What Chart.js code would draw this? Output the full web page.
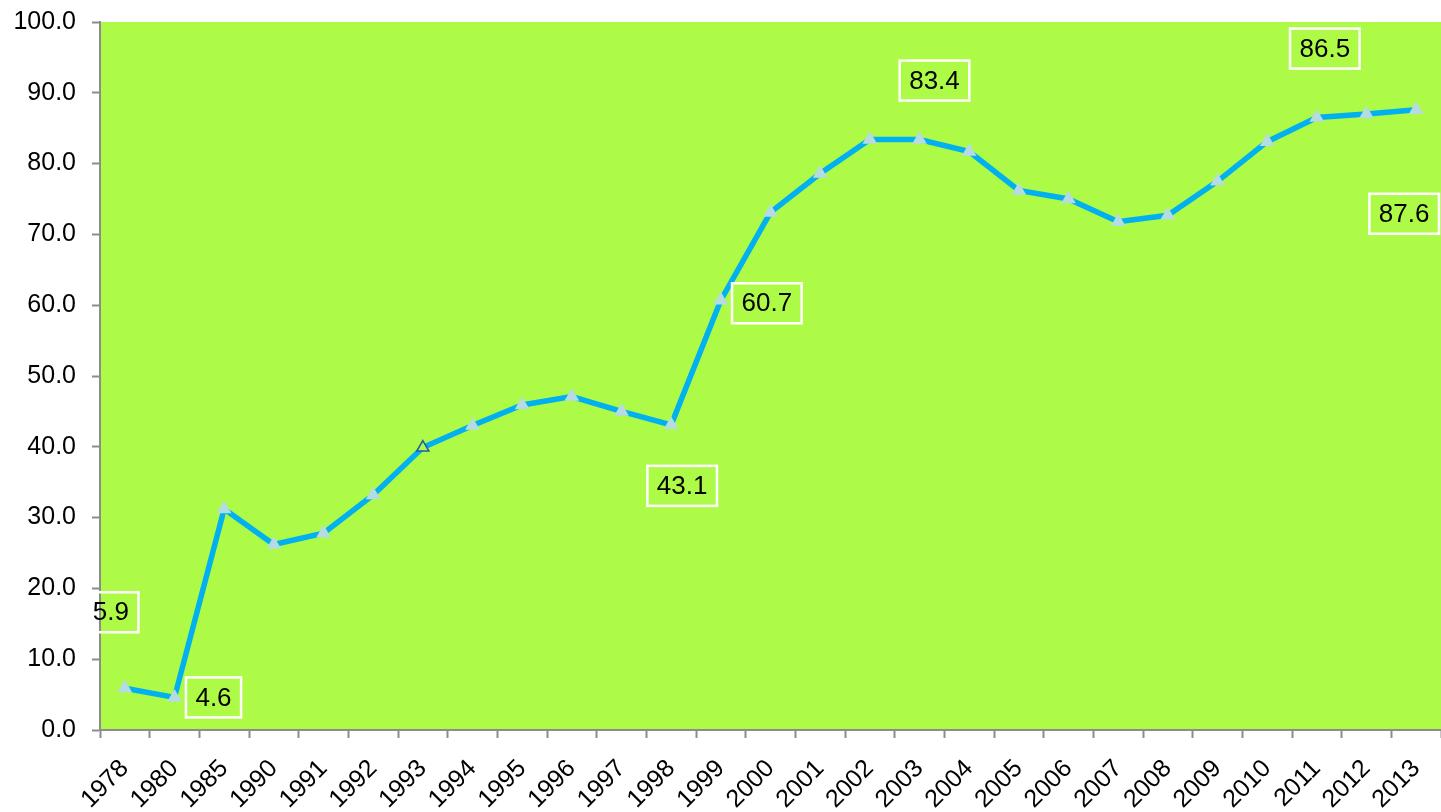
<!DOCTYPE html>
<html>
<head>
<meta charset="utf-8">
<script src="https://cdn.jsdelivr.net/npm/chart.js@4/dist/chart.umd.min.js"></script>
<style>
    html, body { margin: 0; padding: 0; background: #fff; }
    #wrap { width: 1441px; height: 812px; }
</style>
</head>
<body>
<div id="wrap"><canvas id="dataChart" width="1441" height="812"></canvas></div>
<script>
const years = ['1978', '1980', '1985', '1990', '1991', '1992', '1993', '1994', '1995', '1996', '1997', '1998', '1999',
    '2000', '2001', '2002', '2003', '2004', '2005', '2006', '2007', '2008', '2009', '2010', '2011', '2012', '2013'];
const rates = [5.9, 4.6, 31.2, 26.2, 27.8, 33.2, 39.9, 43.0, 45.9, 47.1, 45.0, 43.1, 60.7,
    73.1, 78.6, 83.4, 83.4, 81.7, 76.2, 75.0, 71.8, 72.7, 77.5, 83.1, 86.5, 87.0, 87.6];
const yTicks = [0, 10, 20, 30, 40, 50, 60, 70, 80, 90, 100];

// which points carry a boxed value, and where the box sits relative to the point
const labelled = ['1978', '1980', '1998', '1999', '2003', '2011', '2013'];
const labelShift = [[-14, -76], [39, 0], [11, 61], [46, 3], [15, -59], [8, -69], [-12, 104]];

const plotGreen = '#adfb47';
const lineBlue = '#00b0f0';
const axisGrey = '#8c8c8c';
const fontFamily = '"Liberation Sans", Arial, sans-serif';

const pointFill = years.map(y => y === '1993' ? plotGreen : '#b5dbe3');
const pointEdge = years.map(y => y === '1993' ? '#1f5cb0' : '#b5dbe3');

const plotBackground = {
    id: 'plotBackground',
    beforeDraw(chart) {
        const { ctx, chartArea } = chart;
        ctx.save();
        ctx.fillStyle = plotGreen;
        ctx.fillRect(chartArea.left, chartArea.top, chartArea.right - chartArea.left, chartArea.bottom - chartArea.top);
        ctx.restore();
    }
};

const valueBoxes = {
    id: 'valueBoxes',
    afterDatasetsDraw(chart) {
        const { ctx, scales, chartArea } = chart;
        ctx.save();
        // the first box hangs past the axis; its left side gets cut like in the original
        ctx.beginPath();
        ctx.rect(chartArea.left - 8, 0, chart.width, chart.height);
        ctx.clip();
        ctx.font = '26px ' + fontFamily;
        ctx.textAlign = 'center';
        ctx.textBaseline = 'middle';
        labelled.forEach((yr, i) => {
            const idx = years.indexOf(yr);
            const v = rates[idx];
            const cx = scales.x.getPixelForValue(idx) + labelShift[i][0];
            const cy = scales.y.getPixelForValue(v) + labelShift[i][1];
            const txt = v.toFixed(1);
            const w = ctx.measureText(txt).width + 19;
            const h = 40;
            ctx.strokeStyle = '#ffffff';
            ctx.lineWidth = 2.5;
            ctx.strokeRect(cx - w / 2, cy - h / 2, w, h);
            ctx.fillStyle = '#000';
            ctx.fillText(txt, cx, cy + 1);
        });
        ctx.restore();
    }
};

const dataOptions = {
    type: 'line',
    data: {
        labels: years,
        datasets: [{
            data: rates,
            borderColor: lineBlue,
            borderWidth: 5.5,
            pointStyle: 'triangle',
            pointRadius: 7,
            pointBorderWidth: 1.5,
            pointBackgroundColor: pointFill,
            pointBorderColor: pointEdge,
            tension: 0,
            fill: false,
            clip: false
        }]
    },
    options: {
        responsive: false,
        animation: { duration: 0 },
        layout: { autoPadding: false, padding: { top: 22, right: 0, left: 0, bottom: 0 } },
        plugins: {
            legend: { display: false },
            tooltip: { enabled: false }
        },
        scales: {
            x: {
                type: 'category',
                offset: true,
                grid: { offset: true, drawOnChartArea: false, tickLength: 8, tickColor: axisGrey, tickWidth: 2 },
                border: { color: axisGrey, width: 2 },
                ticks: {
                    color: '#000',
                    font: { family: fontFamily, size: 25 },
                    minRotation: 45,
                    maxRotation: 45,
                    autoSkip: false,
                    padding: 16
                },
                afterFit(scale) {
                    scale.height = 82;
                    scale.paddingLeft = 0;
                    scale.paddingRight = 0;
                }
            },
            y: {
                min: 0,
                max: 100,
                afterBuildTicks(scale) { scale.ticks = yTicks.map(v => ({ value: v })); },
                grid: { drawOnChartArea: false, tickLength: 8, tickColor: axisGrey, tickWidth: 2 },
                border: { color: axisGrey, width: 2 },
                ticks: {
                    color: '#000',
                    font: { family: fontFamily, size: 25 },
                    padding: 16,
                    callback: v => Number(v).toFixed(1)
                },
                afterFit(scale) {
                    scale.width = 100;
                    scale.paddingTop = 0;
                    scale.paddingBottom = 0;
                }
            }
        }
    },
    plugins: [plotBackground, valueBoxes]
};

const datactx = document.getElementById('dataChart').getContext('2d');
const dataChart = new Chart(datactx, dataOptions);
</script>
</body>
</html>
